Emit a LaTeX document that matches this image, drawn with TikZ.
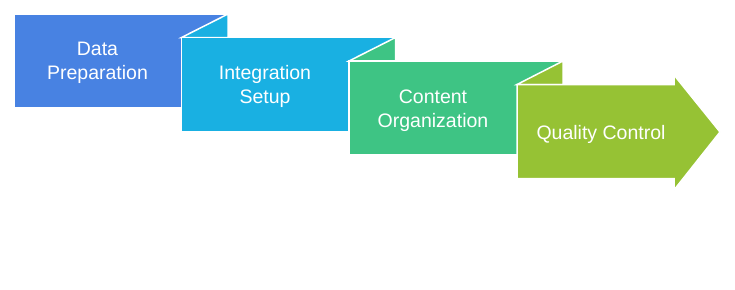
\documentclass[tikz,border=0pt]{standalone}
\usepackage{fontspec}
\setmainfont{Liberation Sans}
\usetikzlibrary{positioning}

\definecolor{prepblue}{RGB}{72,130,226}
\definecolor{setupcyan}{RGB}{25,176,226}
\definecolor{contentgreen}{RGB}{62,196,132}
\definecolor{qualitylime}{RGB}{150,194,52}

\begin{document}
\begin{tikzpicture}[
    x=1pt, y=-1pt,
    stepbox/.style={rectangle, draw=white, line width=1.5pt, anchor=north west, inner sep=0pt, outer sep=0pt, minimum width=214pt, minimum height=94pt},
    flap/.style={draw=white, line width=1.5pt, line join=miter},
    steptext/.style={text=white, align=center, font=\fontsize{19.5}{24}\selectfont}
]

\useasboundingbox (0,0) rectangle (735,289);

% Steps
\node[stepbox, fill=prepblue] (prep) at (14,14) {};
\filldraw[flap, fill=setupcyan] (181.5,37.5) -- (prep.north east) -- (prep.east |- 0,37.5) -- cycle;
\node[stepbox, fill=setupcyan] (setup) at (181.5,37.5) {};
\filldraw[flap, fill=contentgreen] (349,61) -- (setup.north east) -- (setup.east |- 0,61) -- cycle;
\node[stepbox, fill=contentgreen] (content) at (349,61) {};
\filldraw[flap, fill=qualitylime] (517,84.5) -- (content.north east) -- (content.east |- 0,84.5) -- cycle;
\filldraw[flap, fill=qualitylime] (517,84.5) -- (674,84.5) -- (674,75) -- (720,132) -- (674,190) -- (674,178.5) -- (517,178.5) -- cycle;

% Labels
\node[steptext] (prep_text) at (97.5,63) {Data\\Preparation};
\node[steptext] (setup_text) at (265,86.5) {Integration\\Setup};
\node[steptext] (content_text) at (433,110.5) {Content\\Organization};
\node[steptext] (quality_text) at (601,134) {Quality Control};

\end{tikzpicture}
\end{document}
